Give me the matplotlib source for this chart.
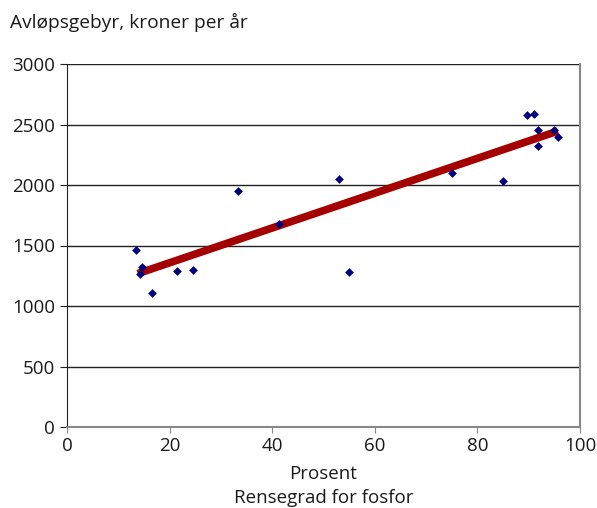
import matplotlib
matplotlib.use("Agg")
import matplotlib.pyplot as plt

plt.rcParams['font.family'] = ['Open Sans', 'DejaVu Sans']

# Data
rensegrad = [13.5, 14.6, 14.3, 16.5, 21.4, 24.6, 33.4, 41.4, 53.0, 55.0,
             75.0, 85.0, 89.7, 91.0, 91.9, 91.9, 94.9, 95.8]
gebyr = [1460, 1322, 1268, 1105, 1292, 1300, 1953, 1675, 2050, 1285,
         2100, 2030, 2578, 2583, 2455, 2320, 2458, 2398]
trend_x = [13.8, 95.7]
trend_y = [1268, 2446]

xticks = [0, 20, 40, 60, 80, 100]
yticks = [0, 500, 1000, 1500, 2000, 2500, 3000]

fig = plt.figure(figsize=(5.97, 5.08), dpi=100)
ax = fig.add_axes([67/597, 1-427/508, 513/597, 363/508])

for yv in yticks[1:]:
    ax.axhline(yv, color='#222222', lw=1.0, zorder=1)

ax.plot(trend_x, trend_y, color='#a50000', lw=5.5, solid_capstyle='butt', zorder=2)
ax.scatter(rensegrad, gebyr, marker='D', s=20, color='#00007f', zorder=3, linewidths=0)

ax.set_xlim(0, 100)
ax.set_ylim(0, 3000)
ax.set_xticks(xticks)
ax.set_yticks(yticks)
ax.tick_params(axis='both', labelsize=13.5, colors='#1a1a1a', length=5, width=0.8)
ax.tick_params(axis='x', direction='out', length=4, color='#888888')
ax.tick_params(axis='y', direction='out', color='#222222')

ax.spines['top'].set_visible(False)
ax.spines['left'].set_color('#222222')
ax.spines['bottom'].set_color('#888888')
ax.spines['bottom'].set_linewidth(1.5)
ax.spines['right'].set_color('#888888')
ax.spines['right'].set_linewidth(1.5)

ax.set_xlabel('Prosent\nRensegrad for fosfor', fontsize=13.5, color='#1a1a1a',
              linespacing=1.4, labelpad=7)
fig.text(10/597, 1-22/508, 'Avløpsgebyr, kroner per år', fontsize=13.8,
         color='#1a1a1a', va='center', ha='left')

fig.savefig('out.png', dpi=100)
